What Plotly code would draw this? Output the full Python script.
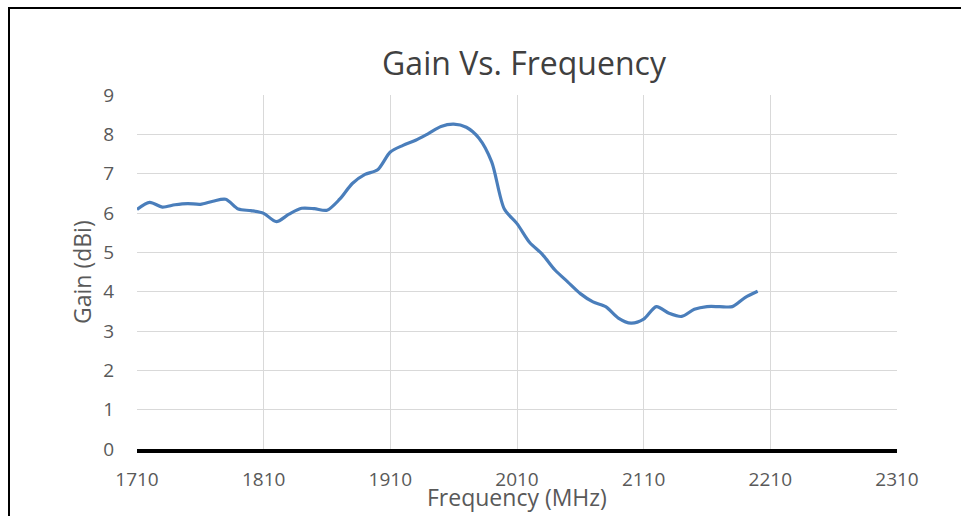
import plotly.graph_objects as go

frequency_mhz = [1710, 1720, 1730, 1740, 1750, 1760, 1770, 1780, 1790, 1800,
                 1810, 1820, 1830, 1840, 1850, 1860, 1870, 1880, 1890, 1900,
                 1910, 1920, 1930, 1940, 1950, 1960, 1970, 1980, 1990, 2000,
                 2010, 2020, 2030, 2040, 2050, 2060, 2070, 2080, 2090, 2100,
                 2110, 2120, 2130, 2140, 2150, 2160, 2170, 2180, 2190, 2200]
gain_dbi = [6.09, 6.27, 6.15, 6.21, 6.24, 6.22, 6.30, 6.35, 6.10, 6.06,
            5.99, 5.78, 5.97, 6.12, 6.11, 6.07, 6.35, 6.75, 6.98, 7.10,
            7.55, 7.72, 7.85, 8.02, 8.20, 8.26, 8.18, 7.90, 7.30, 6.10,
            5.73, 5.25, 4.95, 4.55, 4.25, 3.95, 3.74, 3.62, 3.33, 3.20,
            3.30, 3.62, 3.45, 3.37, 3.55, 3.62, 3.62, 3.62, 3.85, 4.01]
x_ticks = [1710, 1810, 1910, 2010, 2110, 2210, 2310]
y_ticks = [0, 1, 2, 3, 4, 5, 6, 7, 8, 9]

FONT = "Open Sans"
TXT = "#595959"

W, H = 961, 516
L, R, T, B = 137, 64, 95, 67
PW, PH = W - L - R, H - T - B


def px(xf):
    return (xf - L) / PW


def py(yf):
    return (H - B - yf) / PH


fig = go.Figure()
fig.add_trace(go.Scatter(
    x=frequency_mhz, y=gain_dbi, mode="lines",
    line=dict(color="#4a7ebb", width=3.2, shape="spline", smoothing=0.8),
    showlegend=False, hoverinfo="x+y",
))

fig.update_layout(
    width=W, height=H,
    margin=dict(l=L, r=R, t=T, b=B),
    paper_bgcolor="white", plot_bgcolor="white",
    title=dict(text="Gain Vs. Frequency", x=524 / W, xanchor="center",
               y=1 - 64 / H, yanchor="middle",
               font=dict(family=FONT, size=32, color="#404040")),
    font=dict(family=FONT, color=TXT),
    xaxis=dict(
        range=[1710, 2310], tickvals=x_ticks, ticktext=[str(v) for v in x_ticks],
        showgrid=True, gridcolor="#d9d9d9", gridwidth=1,
        showline=True, linecolor="black", linewidth=4,
        zeroline=False, ticks="", ticklabelstandoff=10,
        tickfont=dict(family=FONT, size=19, color=TXT),
    ),
    yaxis=dict(
        range=[0, 9], tickvals=y_ticks,
        showgrid=True, gridcolor="#d9d9d9", gridwidth=1,
        showline=False, zeroline=False, ticks="", ticklabelstandoff=22,
        tickfont=dict(family=FONT, size=19, color=TXT),
    ),
    annotations=[
        dict(text="Frequency (MHz)", xref="paper", yref="paper",
             x=px(517), y=py(497), xanchor="center", yanchor="middle",
             showarrow=False, font=dict(family=FONT, size=23, color=TXT)),
        dict(text="Gain (dBi)", xref="paper", yref="paper",
             x=px(82), y=py(272), xanchor="center", yanchor="middle",
             textangle=-90, showarrow=False,
             font=dict(family=FONT, size=23, color=TXT)),
    ],
    shapes=[
        dict(type="line", xref="paper", yref="paper",
             x0=px(8), x1=px(W), y0=py(8), y1=py(8),
             line=dict(color="black", width=2)),
        dict(type="line", xref="paper", yref="paper",
             x0=px(9), x1=px(9), y0=py(7), y1=py(H),
             line=dict(color="black", width=2)),
    ],
)

fig.write_html(
    "out.html",
    config={"displayModeBar": False},
    post_script="document.body.style.margin='0';document.body.style.overflow='hidden';",
)
